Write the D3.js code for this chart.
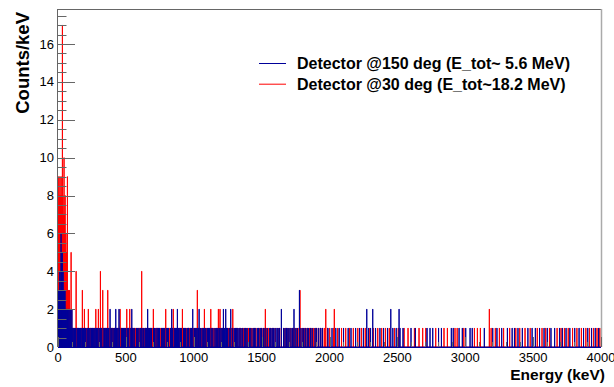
<!DOCTYPE html>
<html lang="en">
<head>
<meta charset="UTF-8">
<title>Detector energy spectra</title>
<script src="https://d3js.org/d3.v7.min.js"></script>
<style>
    body { margin: 0; background: #fff; }
    svg { display: block; font-family: "Liberation Sans", Arial, sans-serif; }
</style>
</head>
<body>
<div id="chart"></div>
<script>
    // 1 keV bins from 0 to 4000 keV
    const nBins = 4000;
    const yMax = 17.85;
    const xTicks = [0, 500, 1000, 1500, 2000, 2500, 3000, 3500, 4000];
    const yTicks = [0, 2, 4, 6, 8, 10, 12, 14, 16];

    const legendLabels = ["Detector @150 deg (E_tot~ 5.6 MeV)", "Detector @30 deg (E_tot~18.2 MeV)"];

    // bins with one count (keV)
    const blueSingles = [104, 112, 121, 129, 140, 145, 151, 158, 166, 175, 181, 187, 196, 203,
        214, 221, 228, 236, 247, 253, 259, 266, 274, 284, 289, 301, 309, 315, 322, 338, 343, 347, 356,
        366, 371, 392, 404, 413, 419, 431, 440, 452, 466, 474, 481, 488, 497, 509, 515, 521,
        536, 545, 552, 561, 577, 583, 590, 604, 611, 618, 628, 641, 647, 653, 668, 673, 679, 688,
        703, 711, 722, 735, 741, 748, 763, 771, 779, 786, 801, 807, 812, 828, 843, 856, 865, 872,
        887, 897, 903, 908, 924, 931, 938, 951, 958, 963, 977, 984,
        1004, 1010, 1017, 1025, 1036, 1049, 1061, 1070, 1081, 1089, 1102, 1109, 1117, 1128, 1140, 1156, 1165, 1173, 1185,
        1192, 1201, 1210, 1226, 1240, 1248, 1261, 1285, 1298, 1307, 1316, 1325, 1334, 1347, 1357, 1372, 1383, 1393, 1411,
        1420, 1437, 1446, 1452, 1468, 1477, 1489, 1499, 1512, 1525, 1541, 1559, 1567, 1577, 1586, 1598, 1612, 1620, 1630,
        1661, 1672, 1683, 1693, 1702, 1716, 1728, 1751, 1763, 1782, 1797, 1809, 1821, 1835, 1846, 1860, 1872, 1893, 1905,
        1920, 1935, 1947, 1988,
        2018, 2046, 2071, 2103, 2137, 2158, 2192, 2221, 2249, 2287, 2302, 2339, 2371, 2398, 2427, 2466, 2491, 2519, 2541,
        2600, 2632, 2718, 2740, 2760, 2803, 2824, 2897, 2911, 2954, 2978, 3003, 3035, 3051, 3140, 3202, 3233, 3268, 3310,
        3345, 3362, 3388, 3420, 3461, 3492, 3516, 3547, 3580, 3604, 3631, 3658, 3694, 3715, 3742, 3770, 3806, 3838, 3871,
        3902, 3930, 3957, 3982];

    const redSingles = [108, 113, 117, 121, 125, 134, 138, 146, 150, 154, 162, 166, 171, 176, 183, 187, 191, 197, 200,
        205, 209, 214, 219, 227, 232, 237, 241, 246, 252, 257, 262, 266, 270, 276, 281, 287, 293, 301, 305, 310, 318, 322,
        327, 334, 338, 343, 347, 351, 356, 360, 372, 378, 383, 387, 392, 398, 403, 409, 414, 420, 426, 436, 440, 445, 451,
        461, 465, 470, 476, 481, 487, 493, 499, 510, 516, 521, 532, 538, 547, 552, 557, 563, 572, 577, 583, 590, 597, 603,
        610, 622, 629, 635, 641, 647, 653, 660, 667, 673, 679, 684, 690, 697, 709, 716, 722, 729, 735, 742, 749, 757, 763,
        772, 780, 787, 798, 804, 812, 818, 826, 833, 838, 844, 855, 861, 867, 873, 880, 886, 892, 897, 903, 909, 919, 924,
        930, 937, 945, 951, 958, 963, 969, 976, 983, 995,
        1002, 1011, 1019, 1033, 1041, 1055, 1062, 1069, 1088, 1095, 1102, 1110, 1118, 1133, 1140, 1148, 1156, 1165, 1174,
        1188, 1201, 1210, 1219, 1239, 1247, 1255, 1265, 1279, 1290, 1305, 1313, 1323, 1336, 1345, 1356, 1365, 1381, 1390,
        1403, 1414, 1426, 1436, 1445, 1458, 1476, 1486, 1497, 1510, 1520, 1535, 1548, 1566, 1578, 1589, 1601, 1620, 1632,
        1645, 1662, 1672, 1685, 1695, 1710, 1724, 1734, 1740, 1757, 1768, 1788, 1800, 1813, 1826, 1838, 1850, 1858, 1870,
        1880, 1893, 1905, 1920, 1934, 1948, 1961, 1985, 2001,
        2030, 2060, 2088, 2119, 2146, 2175, 2208, 2234, 2263, 2297, 2324, 2355, 2384, 2412, 2440, 2478, 2506, 2549, 2578,
        2625, 2659, 2686, 2709, 2782, 2843, 2868, 2924, 2940, 2989, 3067, 3089, 3111, 3190, 3221, 3251, 3282, 3327, 3372,
        3401, 3440, 3478, 3530, 3565, 3592, 3620, 3676, 3705, 3730, 3758, 3790, 3822, 3855, 3888, 3915, 3944, 3970, 3991];

    // bins with more than one count [keV, counts]
    const bluePeaks = [[1, 2], [3, 3], [5, 2], [6, 3], [8, 3], [10, 2], [12, 3], [13, 4], [15, 3], [17, 2], [19, 3], [21, 4],
        [22, 6], [24, 3], [26, 5], [28, 3], [30, 4], [31, 5], [33, 3], [35, 2], [37, 4], [39, 3], [41, 2], [43, 3], [45, 2],
        [47, 3], [49, 2], [51, 3], [54, 2], [57, 1], [59, 2], [62, 1], [65, 2], [68, 2], [71, 1], [74, 2], [77, 1], [80, 2],
        [84, 1], [87, 2], [91, 1], [94, 2], [98, 1], [102, 2],
        [383, 2], [425, 2], [449, 2], [543, 2], [660, 2], [837, 2], [879, 2], [992, 2], [1039, 2], [1218, 2], [1235, 2],
        [1272, 2], [1645, 2], [1738, 2], [1778, 3], [2274, 2], [2318, 2], [2451, 2], [2512, 2]];

    const redPeaks = [[2, 5], [4, 7], [5, 9], [7, 6], [9, 8], [11, 4], [12, 7], [14, 9], [16, 6], [18, 8], [19, 5], [21, 7],
        [23, 9], [25, 6], [27, 8], [29, 7], [30, 5], [32, 17], [34, 6], [36, 8], [38, 7], [40, 5], [42, 6], [44, 10],
        [46, 7], [48, 4], [50, 6], [52, 8], [54, 5], [56, 3], [58, 6], [60, 4], [62, 5], [64, 3], [66, 4], [69, 9], [72, 3],
        [75, 2], [78, 3], [81, 2], [84, 3], [88, 2], [92, 2], [96, 5], [100, 2],
        [133, 4], [179, 3], [194, 2], [223, 2], [278, 2], [297, 2], [312, 4], [329, 3], [366, 3], [457, 2], [506, 2],
        [528, 2], [616, 4], [702, 2], [793, 2], [849, 2], [916, 2], [1026, 3], [1078, 2], [1125, 2], [1181, 2], [1193, 2],
        [1287, 2], [1527, 2], [1782, 3], [1972, 2], [2035, 2], [3177, 2]];

    const width = 614, height = 387;
    const margin = { left: 58, right: 13, top: 9, bottom: 40 };

    const svg = d3.select("#chart").append("svg")
        .attr("width", width)
        .attr("height", height);

    const x = d3.scaleLinear().domain([0, 4000]).range([margin.left, width - margin.right]);
    const y = d3.scaleLinear().domain([0, yMax]).range([height - margin.bottom, margin.top]);

    function binCounts(singles, peaks) {
        const c = new Array(nBins).fill(0);
        singles.forEach(e => { c[e] = 1; });
        peaks.forEach(p => { c[p[0]] = p[1]; });
        return c;
    }

    // ROOT style step outline
    function stepPoints(counts) {
        const pts = [[0, 0]];
        counts.forEach((v, i) => { pts.push([i, v], [i + 1, v]); });
        pts.push([nBins, 0]);
        return pts;
    }

    const line = d3.line().x(d => x(d[0])).y(d => y(d[1]));

    const series = [
        { counts: binCounts(redSingles, redPeaks), color: "#ff0000" },
        { counts: binCounts(blueSingles, bluePeaks), color: "#000099" }
    ];

    svg.append("g").selectAll("path")
        .data(series)
        .enter().append("path")
        .attr("fill", "none")
        .attr("stroke", d => d.color)
        .attr("stroke-width", 1)
        .attr("d", d => line(stepPoints(d.counts)));

    // frame
    const axisColor = "#666";
    svg.append("line").attr("x1", x(0)).attr("x2", x(4000)).attr("y1", y(yMax) + 0.5).attr("y2", y(yMax) + 0.5)
        .attr("stroke", axisColor);
    svg.append("line").attr("x1", x(4000) + 0.5).attr("x2", x(4000) + 0.5).attr("y1", y(yMax)).attr("y2", y(0))
        .attr("stroke", "#aaa").attr("stroke-width", 1.5);
    svg.append("line").attr("x1", x(0) - 0.5).attr("x2", x(0) - 0.5).attr("y1", y(yMax)).attr("y2", y(0))
        .attr("stroke", axisColor);

    // y axis ticks (inside the frame)
    const yMinor = d3.range(0, yMax, 0.5);
    svg.append("g").selectAll("line")
        .data(yMinor)
        .enter().append("line")
        .attr("x1", x(0))
        .attr("x2", d => x(0) + (d % 2 === 0 ? 17 : 8.5))
        .attr("y1", d => Math.round(y(d)) + 0.5)
        .attr("y2", d => Math.round(y(d)) + 0.5)
        .attr("stroke", axisColor);

    svg.append("g").selectAll("text")
        .data(yTicks)
        .enter().append("text")
        .attr("x", x(0) - 4)
        .attr("y", d => y(d) + 4.5)
        .attr("text-anchor", "end")
        .attr("font-size", 13)
        .text(d => d);

    // x axis ticks
    const xMinor = d3.range(0, 4001, 100);
    svg.append("g").selectAll("line")
        .data(xMinor)
        .enter().append("line")
        .attr("x1", d => Math.round(x(d)) + 0.5)
        .attr("x2", d => Math.round(x(d)) + 0.5)
        .attr("y1", y(0))
        .attr("y2", d => y(0) - (d % 500 === 0 ? 10 : 5))
        .attr("stroke", axisColor);

    svg.append("line").attr("x1", x(0)).attr("x2", x(4000)).attr("y1", y(0) + 0.5).attr("y2", y(0) + 0.5)
        .attr("stroke", "#000099");

    svg.append("g").selectAll("text")
        .data(xTicks)
        .enter().append("text")
        .attr("x", d => x(d))
        .attr("y", 362)
        .attr("text-anchor", "middle")
        .attr("font-size", 13)
        .text(d => d);

    // axis titles
    svg.append("text")
        .attr("x", 605).attr("y", 380)
        .attr("text-anchor", "end")
        .attr("font-size", 15.5)
        .attr("font-weight", "bold")
        .text("Energy (keV)");

    svg.append("text")
        .attr("transform", "translate(28.5,12) rotate(-90)")
        .attr("text-anchor", "end")
        .attr("font-size", 18.5)
        .attr("font-weight", "bold")
        .text("Counts/keV");

    // legend
    const legend = svg.append("g").selectAll("g")
        .data(legendLabels)
        .enter().append("g")
        .attr("transform", (d, i) => `translate(0, ${63.5 + i * 20.7})`);

    legend.append("line")
        .attr("x1", 259).attr("x2", 286)
        .attr("stroke", (d, i) => i === 0 ? "#000099" : "#ff0000")
        .attr("stroke-width", 1);

    legend.append("text")
        .attr("x", 297).attr("y", 5.5)
        .attr("font-size", 16)
        .attr("font-weight", "bold")
        .text(d => d);
</script>
</body>
</html>
